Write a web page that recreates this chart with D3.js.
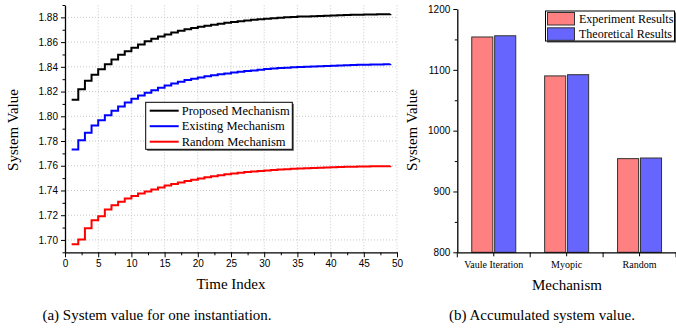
<!DOCTYPE html>
<html><head><meta charset="utf-8">
<script src="https://cdn.jsdelivr.net/npm/d3@7"></script>
<style>body{margin:0;background:#fff}svg{display:block}</style>
</head><body>
<svg id="c" width="676" height="333"></svg>
<script>
// ---- Data: left chart (a) ----
const timeIndex = d3.range(1, 50);
const proposed = [1.8133,1.8219,1.8287,1.8335,1.8381,1.8420,1.8460,1.8497,1.8525,1.8554,1.8581,1.8606,1.8627,1.8646,1.8662,1.8678,1.8691,1.8703,1.8714,1.8724,1.8733,1.8741,1.8749,1.8756,1.8763,1.8769,1.8775,1.8780,1.8785,1.8789,1.8793,1.8797,1.8800,1.8803,1.8806,1.8808,1.8810,1.8812,1.8814,1.8816,1.8818,1.8819,1.8821,1.8822,1.8823,1.8824,1.8825,1.8826,1.8827];
const existing = [1.7731,1.7806,1.7866,1.7925,1.7968,1.8009,1.8044,1.8079,1.8112,1.8141,1.8168,1.8190,1.8211,1.8230,1.8249,1.8266,1.8280,1.8293,1.8304,1.8314,1.8324,1.8332,1.8340,1.8347,1.8354,1.8360,1.8366,1.8371,1.8376,1.8382,1.8386,1.8390,1.8393,1.8396,1.8399,1.8401,1.8403,1.8405,1.8407,1.8409,1.8411,1.8413,1.8414,1.8416,1.8417,1.8418,1.8419,1.8420,1.8422];
const randomMech = [1.6965,1.7003,1.7095,1.7160,1.7192,1.7246,1.7281,1.7308,1.7335,1.7356,1.7376,1.7392,1.7408,1.7424,1.7440,1.7453,1.7465,1.7476,1.7487,1.7497,1.7506,1.7515,1.7523,1.7531,1.7538,1.7544,1.7549,1.7554,1.7558,1.7562,1.7566,1.7569,1.7572,1.7575,1.7578,1.7580,1.7582,1.7584,1.7586,1.7588,1.7589,1.7591,1.7592,1.7593,1.7594,1.7595,1.7596,1.7596,1.7597];
const lineNames = ["Proposed Mechanism","Existing Mechanism","Random Mechanism"];
const lineColors = ["#000000","#0000ff","#ff0000"];
const xTicksA = d3.range(0, 51, 5);
const yTicksA = [1.70,1.72,1.74,1.76,1.78,1.80,1.82,1.84,1.86,1.88];

// ---- Data: right chart (b) ----
const mechanisms = ["Vaule Iteration","Myopic","Random"];
const experimentResults = [1154, 1090, 954];
const theoreticalResults = [1156, 1092, 955];
const barNames = ["Experiment Results","Theoretical Results"];
const barColors = ["#ff8080","#6666ff"];
const yTicksB = [800, 900, 1000, 1100, 1200];

const serif = "'Liberation Serif','Times New Roman',serif";
const sans = "'Liberation Sans',Arial,sans-serif";
const svg = d3.select("#c");

// ================= Chart (a) =================
const xA = d3.scaleLinear().domain([0, 50]).range([65, 397]);
const yA = d3.scaleLinear().domain([1.69, 1.89]).range([252.3, 5]);
const gA = svg.append("g");

// grid
gA.append("g").selectAll("line").data(xTicksA.filter(d => d > 0)).join("line")
  .attr("x1", d => xA(d)).attr("x2", d => xA(d)).attr("y1", yA(1.69)).attr("y2", yA(1.89))
  .attr("stroke", "#c8c8c8").attr("stroke-width", 1).attr("stroke-dasharray", "1,2");
gA.append("g").selectAll("line").data(yTicksA).join("line")
  .attr("x1", xA(0)).attr("x2", xA(50)).attr("y1", d => yA(d)).attr("y2", d => yA(d))
  .attr("stroke", "#c8c8c8").attr("stroke-width", 1).attr("stroke-dasharray", "1,2");

// lines
const series = [proposed, existing, randomMech];
const lineGen = d3.line().curve(d3.curveStepAfter).x((d, i) => xA(timeIndex[i])).y(d => yA(d));
series.forEach((s, k) => {
  gA.append("path").datum(s).attr("d", lineGen).attr("fill", "none")
    .attr("stroke", lineColors[k]).attr("stroke-width", 2);
});

// axes
function styleAxis(g) {
  g.selectAll(".domain").attr("stroke", "#000").attr("stroke-width", 1.3);
  g.selectAll(".tick line").attr("stroke", "#000").attr("stroke-width", 1);
  g.selectAll("text").attr("font-family", sans).attr("font-size", "10px").attr("fill", "#000");
}
const axXA = gA.append("g").attr("transform", `translate(0,${yA(1.69)})`)
  .call(d3.axisBottom(xA).tickValues(xTicksA).tickSize(5).tickPadding(3).tickSizeOuter(0).tickFormat(d3.format("d")));
styleAxis(axXA);
gA.append("g").attr("transform", `translate(0,${yA(1.69)})`)
  .call(d3.axisBottom(xA).tickValues(d3.range(2.5, 50, 5)).tickSize(3).tickFormat("").tickSizeOuter(0))
  .call(g => { g.select(".domain").remove(); g.selectAll("line").attr("stroke", "#000"); });
const axYA = gA.append("g").attr("transform", `translate(${xA(0)},0)`)
  .call(d3.axisLeft(yA).tickValues(yTicksA).tickSize(4).tickPadding(3).tickSizeOuter(0).tickFormat(d3.format(".2f")));
styleAxis(axYA);
gA.append("g").attr("transform", `translate(${xA(0)},0)`)
  .call(d3.axisLeft(yA).tickValues(d3.range(1.69, 1.895, 0.02)).tickSize(2.5).tickFormat("").tickSizeOuter(0))
  .call(g => { g.select(".domain").remove(); g.selectAll("line").attr("stroke", "#000"); });

gA.append("text").attr("x", 231).attr("y", 289).attr("text-anchor", "middle")
  .attr("font-family", serif).attr("font-size", "15px").text("Time Index");
gA.append("text").attr("transform", "translate(18,130) rotate(-90)").attr("text-anchor", "middle")
  .attr("font-family", serif).attr("font-size", "15px").text("System Value");

// legend (a)
const legA = gA.append("g").attr("transform", "translate(145.7,102.3)");
legA.append("rect").attr("x", 1.5).attr("y", 1.5).attr("width", 146.6).attr("height", 47).attr("fill", "#555");
legA.append("rect").attr("x", 0).attr("y", 0).attr("width", 146.6).attr("height", 47)
  .attr("fill", "#fff").attr("stroke", "#000").attr("stroke-width", 1);
lineNames.forEach((n, i) => {
  const y = 8.4 + i * 15.5;
  legA.append("line").attr("x1", 4).attr("x2", 33).attr("y1", y).attr("y2", y)
    .attr("stroke", lineColors[i]).attr("stroke-width", 2);
  legA.append("text").attr("x", 36).attr("y", y + 4.3).attr("font-family", serif)
    .attr("font-size", "12.5px").text(n);
});

// ================= Chart (b) =================
const xB = d3.scaleBand().domain(mechanisms).range([457.3, 676]).padding(0);
const x1 = d3.scaleBand().domain(barNames).range([-22, 22]).paddingInner(0.08);
const yB = d3.scaleLinear().domain([800, 1200]).range([252.3, 9]);
const gB = svg.append("g");

const barData = mechanisms.map((m, i) => ({ m, vals: [experimentResults[i], theoreticalResults[i]] }));
gB.selectAll("g.grp").data(barData).join("g").attr("class", "grp")
  .attr("transform", d => `translate(${xB(d.m) + xB.bandwidth() / 2},0)`)
  .selectAll("rect").data(d => d.vals.map((v, k) => ({ v, k }))).join("rect")
  .attr("x", d => x1(barNames[d.k])).attr("width", x1.bandwidth())
  .attr("y", d => yB(d.v)).attr("height", d => yB(800) - yB(d.v))
  .attr("fill", d => barColors[d.k]).attr("stroke", "#333").attr("stroke-width", 1);

const axXB = gB.append("g").attr("transform", `translate(0,${yB(800)})`)
  .call(d3.axisBottom(xB).tickSize(4).tickPadding(5).tickSizeOuter(0));
axXB.selectAll(".domain").attr("stroke", "#000").attr("stroke-width", 1.3);
axXB.selectAll(".tick line").attr("stroke", "#000");
axXB.selectAll("text").attr("font-family", serif).attr("font-size", "10px").attr("fill", "#000");
// boundary ticks
gB.append("g").selectAll("line").data([0, 1, 2, 3]).join("line")
  .attr("x1", i => 457.3 + i * xB.step()).attr("x2", i => 457.3 + i * xB.step())
  .attr("y1", yB(800)).attr("y2", yB(800) + 5).attr("stroke", "#000");

const axYB = gB.append("g").attr("transform", `translate(457.3,0)`)
  .call(d3.axisLeft(yB).tickValues(yTicksB).tickSize(4).tickPadding(3).tickSizeOuter(0).tickFormat(d3.format("d")));
styleAxis(axYB);
gB.append("g").attr("transform", `translate(457.3,0)`)
  .call(d3.axisLeft(yB).tickValues([850, 950, 1050, 1150]).tickSize(2.5).tickFormat("").tickSizeOuter(0))
  .call(g => { g.select(".domain").remove(); g.selectAll("line").attr("stroke", "#000"); });

gB.append("text").attr("x", 567).attr("y", 290).attr("text-anchor", "middle")
  .attr("font-family", serif).attr("font-size", "15px").text("Mechanism");
gB.append("text").attr("transform", "translate(417,130) rotate(-90)").attr("text-anchor", "middle")
  .attr("font-family", serif).attr("font-size", "15px").text("System Value");

// legend (b)
const legB = gB.append("g").attr("transform", "translate(545.5,11)");
legB.append("rect").attr("x", 1.5).attr("y", 1.5).attr("width", 129).attr("height", 30).attr("fill", "#555");
legB.append("rect").attr("x", 0).attr("y", 0).attr("width", 129).attr("height", 30)
  .attr("fill", "#fff").attr("stroke", "#000").attr("stroke-width", 1);
barNames.forEach((n, i) => {
  legB.append("rect").attr("x", 2).attr("y", 1.5 + i * 15.3).attr("width", 27).attr("height", 12.5)
    .attr("fill", barColors[i]).attr("stroke", "#333").attr("stroke-width", 1);
  legB.append("text").attr("x", 33.5).attr("y", 11.8 + i * 15.3).attr("font-family", serif)
    .attr("font-size", "12px").text(n);
});

// captions
svg.append("text").attr("x", 157).attr("y", 320).attr("text-anchor", "middle")
  .attr("font-family", serif).attr("font-size", "15px").text("(a) System value for one instantiation.");
svg.append("text").attr("x", 542).attr("y", 320).attr("text-anchor", "middle")
  .attr("font-family", serif).attr("font-size", "15px").text("(b) Accumulated system value.");
</script>
</body></html>
